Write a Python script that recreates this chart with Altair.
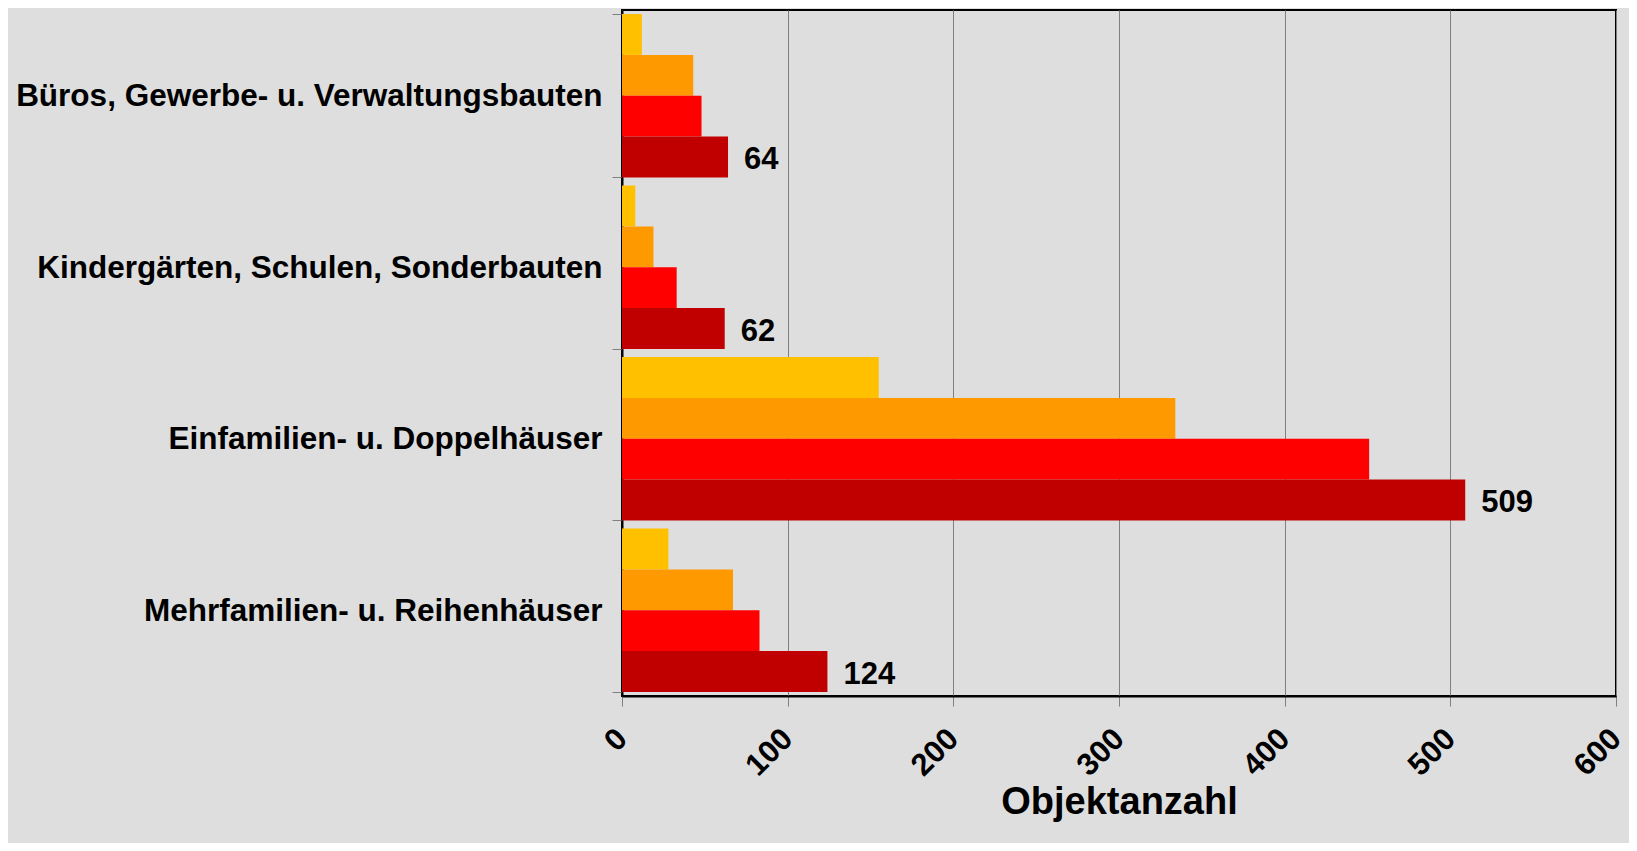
import altair as alt
import pandas as pd

categories = [
    "Büros, Gewerbe- u. Verwaltungsbauten",
    "Kindergärten, Schulen, Sonderbauten",
    "Einfamilien- u. Doppelhäuser",
    "Mehrfamilien- u. Reihenhäuser",
]
series = ["Reihe 1", "Reihe 2", "Reihe 3", "Reihe 4"]
colors = ["#FFC000", "#FF9900", "#FF0000", "#C00000"]
reihe1 = [12, 8, 155, 28]
reihe2 = [43, 19, 334, 67]
reihe3 = [48, 33, 451, 83]
reihe4 = [64, 62, 509, 124]
x_ticks = [0, 100, 200, 300, 400, 500, 600]

rows = []
for s, vals in zip(series, [reihe1, reihe2, reihe3, reihe4]):
    for c, v in zip(categories, vals):
        rows.append({"Kategorie": c, "Reihe": s, "Wert": v})
df = pd.DataFrame(rows)

FONT = "Liberation Sans"

y = alt.Y(
    "Kategorie:N",
    sort=categories,
    scale=alt.Scale(paddingInner=0.047, paddingOuter=0.0235),
    axis=alt.Axis(
        title=None,
        labelFont=FONT,
        labelFontSize=31.5,
        labelFontWeight="bold",
        labelColor="black",
        labelPadding=10,
        labelOffset=1,
        labelLimit=0,
        tickSize=10,
        tickColor="#808080",
        tickBand="extent",
        domainColor="black",
        domainWidth=2,
        grid=False,
    ),
)
yoff = alt.YOffset("Reihe:N", sort=series, scale=alt.Scale(paddingInner=0, paddingOuter=0))
x = alt.X(
    "Wert:Q",
    scale=alt.Scale(domain=[0, 600], nice=False),
    axis=alt.Axis(
        values=x_ticks,
        title="Objektanzahl",
        titleFont=FONT,
        titleFontSize=38,
        titleFontWeight="bold",
        titleColor="black",
        titleY=117,
        titleBaseline="alphabetic",
        labelFont=FONT,
        labelFontSize=31,
        labelFontWeight="bold",
        labelColor="black",
        labelAngle=315,
        labelAlign="right",
        labelBaseline="middle",
        labelPadding=28,
        labelFlush=False,
        labelOverlap=False,
        tickSize=10,
        tickColor="#808080",
        domainColor="black",
        domainWidth=2,
        grid=True,
        gridColor="#808080",
        gridWidth=1,
    ),
)

bars = alt.Chart(df).mark_bar().encode(
    x=x,
    y=y,
    yOffset=yoff,
    color=alt.Color("Reihe:N", sort=series, scale=alt.Scale(domain=series, range=colors), legend=None),
)

labels = alt.Chart(df).transform_filter(alt.datum.Reihe == series[-1]).mark_text(
    align="left", baseline="middle", dx=16, dy=3, font=FONT, fontSize=31, fontWeight="bold", color="black"
).encode(
    x="Wert:Q",
    y=alt.Y("Kategorie:N", sort=categories),
    yOffset=alt.YOffset("Reihe:N", sort=series),
    text="Wert:Q",
)

chart = (
    alt.layer(bars, labels)
    .properties(
        width=994,
        height=686,
        autosize="none",
        padding={"left": 614, "top": 2, "right": 13, "bottom": 147},
        background="#DEDEDE",
    )
    .configure_view(stroke="black", strokeWidth=2)
)

chart.save("out.html", embed_options={"renderer": "svg", "actions": False})
